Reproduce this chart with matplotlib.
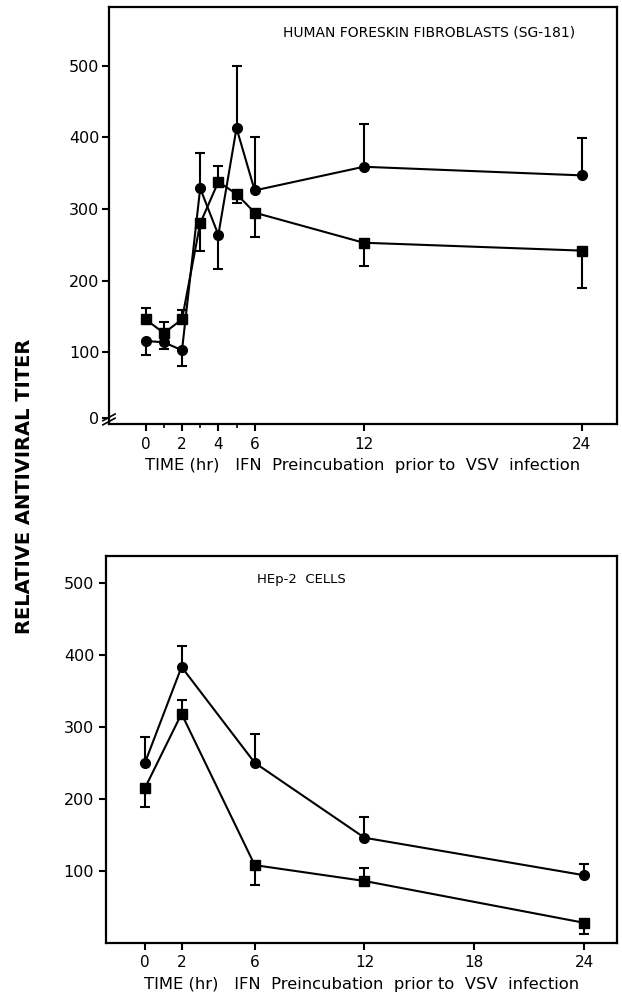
'''
Relative antiviral titer vs. IFN preincubation time, two cell lines.
'''

import numpy as np
import matplotlib
matplotlib.use('Agg')
import matplotlib.pyplot as plt

# top panel: human foreskin fibroblasts (SG-181)
t_top = [0, 1, 2, 3, 4, 5, 6, 12, 24]
circ_top = [116, 114, 103, 329, 264, 413, 326, 359, 347]
circ_top_lo = [20, 9, 22, 0, 47, 0, 0, 0, 0]
circ_top_hi = [0, 0, 0, 49, 0, 87, 74, 59, 52]
sq_top = [146, 127, 146, 280, 338, 321, 295, 253, 242]
sq_top_lo = [0, 0, 0, 39, 0, 13, 34, 33, 52]
sq_top_hi = [16, 15, 13, 0, 22, 0, 0, 0, 0]

# bottom panel: HEp-2 cells
t_bot = [0, 2, 6, 12, 24]
circ_bot = [250, 383, 250, 146, 94]
circ_bot_lo = [0, 0, 0, 0, 0]
circ_bot_hi = [36, 29, 40, 29, 16]
sq_bot = [215, 318, 108, 86, 28]
sq_bot_lo = [27, 0, 27, 0, 16]
sq_bot_hi = [0, 19, 0, 18, 0]

top_xticks = [0, 2, 4, 6, 12, 24]
top_minor = [1, 3, 5]
bot_xticks = [0, 2, 6, 12, 18, 24]
yticks = [100, 200, 300, 400, 500]

top_title = 'HUMAN FORESKIN FIBROBLASTS (SG-181)'
bot_title = 'HEp-2  CELLS'
xlabel = 'TIME (hr)   IFN  Preincubation  prior to  VSV  infection'
ylabel = 'RELATIVE ANTIVIRAL TITER'

plt.rcParams['font.family'] = 'DejaVu Sans'

fig = plt.figure(figsize=(6.22, 9.97), dpi=100)
ax1 = fig.add_axes([0.1752, 0.5747, 0.8167, 0.4183])
ax2 = fig.add_axes([0.1704, 0.0542, 0.8215, 0.3882])


def draw_series(ax, t, y, lo, hi, marker):
    ax.errorbar(t, y, yerr=[lo, hi], fmt='-', marker=marker, color='black',
                lw=1.5, ms=7, elinewidth=1.5, capsize=3.6, capthick=1.5)


def style_axes(ax):
    for sp in ax.spines.values():
        sp.set_linewidth(1.6)
    ax.tick_params(axis='both', direction='out', width=1.5, length=5,
                   labelsize=11.5, colors='black')
    ax.tick_params(axis='x', labelsize=11, pad=4)


draw_series(ax1, t_top, circ_top, circ_top_lo, circ_top_hi, 'o')
draw_series(ax1, t_top, sq_top, sq_top_lo, sq_top_hi, 's')
ax1.set_xlim(-2.02, 25.94)
ax1.set_ylim(0, 582)
ax1.set_xticks(top_xticks)
ax1.set_xticks(top_minor, minor=True)
ax1.tick_params(axis='x', which='minor', direction='out', length=3, width=1.2)
# the zero tick sits just above the axis, with a break in the y axis
ax1.set_yticks([9] + yticks)
ax1.set_yticklabels(['0'] + [str(v) for v in yticks])
style_axes(ax1)
ax1.tick_params(axis='y', pad=2)
ax1.text(0.3425, 0.94, top_title, transform=ax1.transAxes, fontsize=10,
         va='center', ha='left')
ax1.set_xlabel(xlabel, fontsize=11.8, labelpad=5)

# axis break marks near zero
for dy in (0.006, 0.016):
    ax1.plot([-0.012, 0.012], [dy - 0.008, dy + 0.008], transform=ax1.transAxes,
             color='black', lw=1.2, clip_on=False)

draw_series(ax2, t_bot, circ_bot, circ_bot_lo, circ_bot_hi, 'o')
draw_series(ax2, t_bot, sq_bot, sq_bot_lo, sq_bot_hi, 's')
ax2.set_xlim(-2.13, 25.8)
ax2.set_ylim(0, 537)
ax2.set_xticks(bot_xticks)
ax2.set_yticks(yticks)
style_axes(ax2)
ax2.text(0.2955, 0.938, bot_title, transform=ax2.transAxes, fontsize=9.5,
         va='center', ha='left')
ax2.set_xlabel(xlabel, fontsize=11.8, labelpad=5)

fig.text(0.04, 1 - 486 / 997, ylabel, rotation=90, fontsize=14,
         fontweight='bold', ha='center', va='center')

fig.savefig('out.png', dpi=100)
